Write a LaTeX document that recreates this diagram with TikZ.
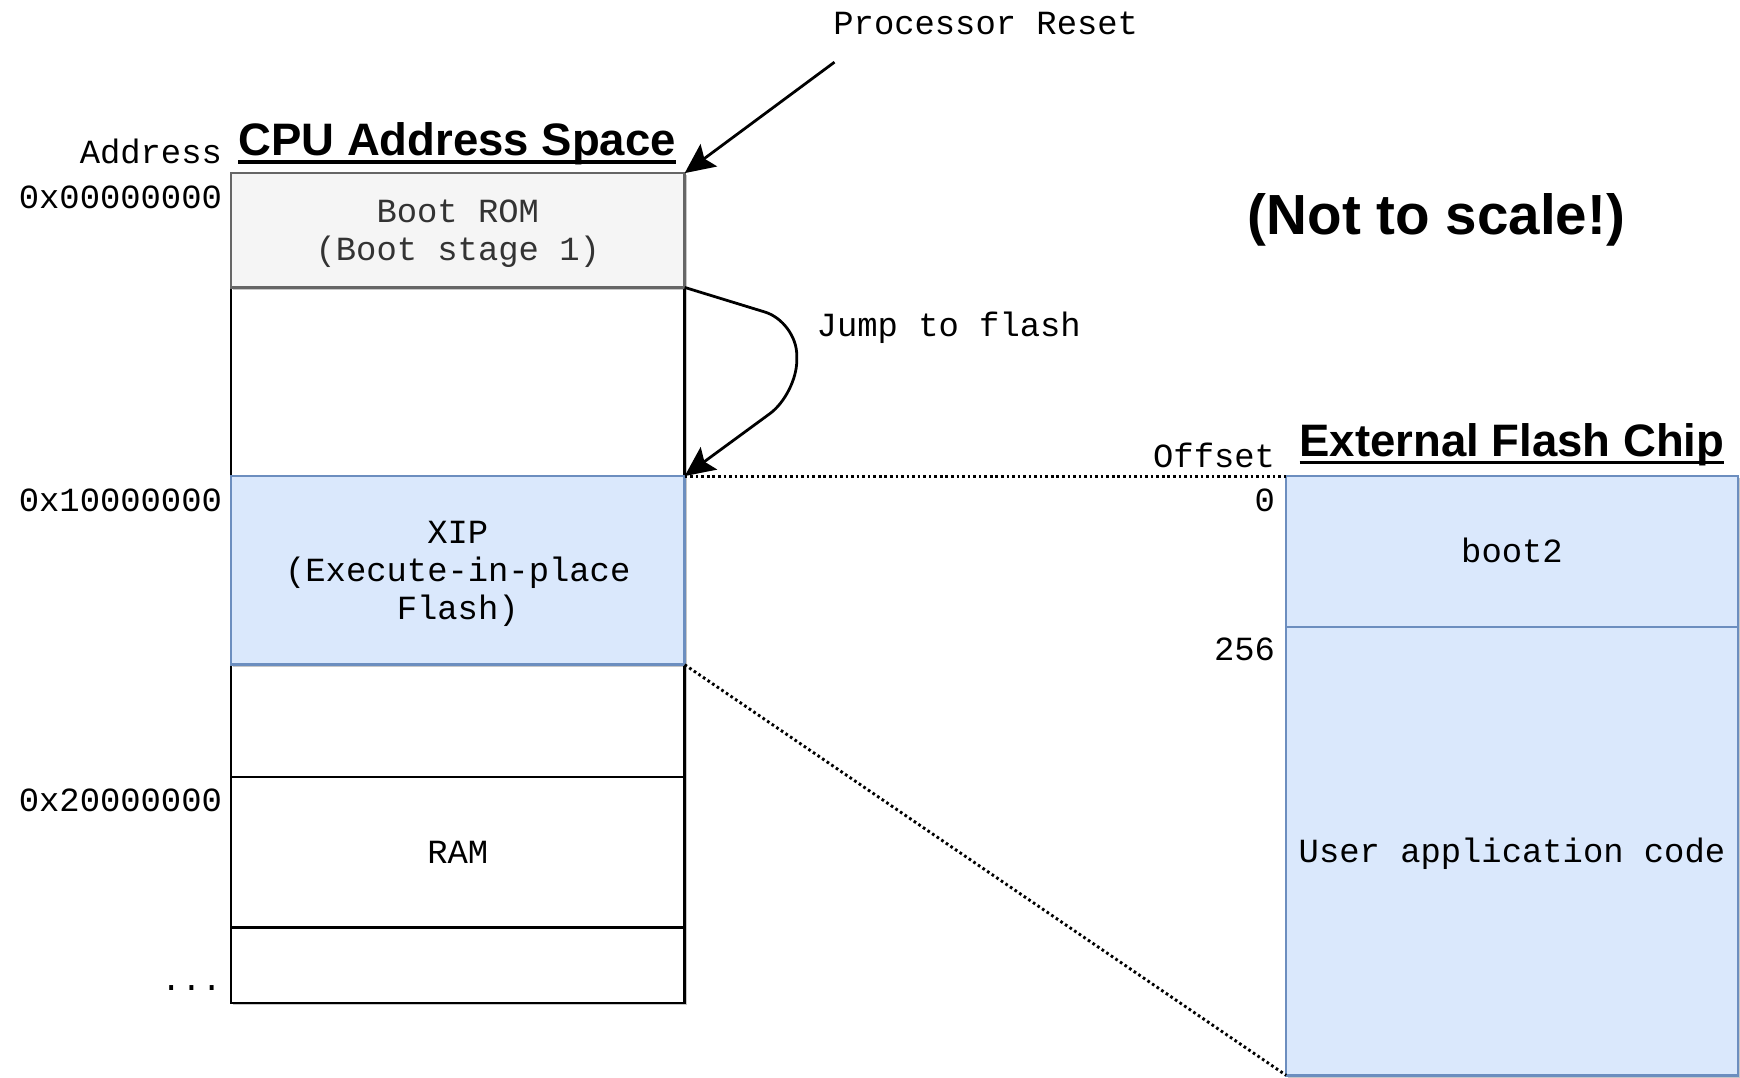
\documentclass[tikz,border=0pt]{standalone}
\usepackage{fontspec}
\setmainfont{Liberation Sans}
\newfontfamily\monofont{Liberation Mono}
\usetikzlibrary{arrows.meta}

\definecolor{xipfill}{HTML}{DAE8FC}
\definecolor{xipline}{HTML}{6C8EBF}
\definecolor{romfill}{HTML}{F5F5F5}
\definecolor{romline}{HTML}{666666}
\definecolor{romtext}{HTML}{333333}

% strut that centres a block of mono lines on its letters
\newcommand\cellstrut{\vrule height 27pt depth 7pt width 0pt}

\begin{document}
\begin{tikzpicture}[x=1pt,y=-1pt,
  mono/.style={font=\monofont\fontsize{30.5}{34}\selectfont, inner sep=0pt, outer sep=0pt},
  heading/.style={font=\bfseries\fontsize{41}{46}\selectfont, inner sep=0pt, outer sep=0pt},
  boxshadow/.style={preaction={fill=black, opacity=.22, transform canvas={xshift=2pt,yshift=-2pt}}},
  cell/.style={mono, align=center, draw=black, fill=white, line width=2.2pt, boxshadow},
  cpucell/.style={cell, minimum width=409pt},
  flashcell/.style={cell, minimum width=407pt},
  bluecell/.style={draw=xipline, fill=xipfill},
  romcell/.style={draw=romline, fill=romfill, text=romtext},
  arrow/.style={line width=2.5pt, -{Stealth[length=27pt, width=25pt, inset=5pt]}},
  dotline/.style={line width=2.6pt, dash pattern=on 2.4pt off 2.6pt},
  uline/.style={line width=3pt}
]
\useasboundingbox (0,0) rectangle (1568,971);

% CPU address space column
\node[cpucell, minimum height=170pt] (gapa) at (412.5,344) {};
\node[cpucell, minimum height=101pt] (gapb) at (412.5,649.5) {};
\node[cpucell, minimum height=136pt] (ram) at (412.5,768) {\cellstrut RAM};
\node[cpucell, minimum height=68pt] (tail) at (412.5,870) {};
\node[cpucell, romcell, minimum height=103pt] (rom) at (412.5,207.5)
  {\cellstrut Boot ROM\\(Boot stage 1)\cellstrut};
\node[cpucell, bluecell, minimum height=170pt] (xip) at (412.5,514)
  {\cellstrut XIP\\(Execute-in-place\\Flash)\cellstrut};

% External flash column
\node[flashcell, bluecell, minimum height=136pt] (boot2) at (1362.5,497) {\cellstrut boot2};
\node[flashcell, bluecell, minimum height=404pt] (app) at (1362.5,767) {\cellstrut User application code};

% Headings
\node[heading, anchor=base] (cputitle) at (412,140) {CPU Address Space};
\draw[uline] ([yshift=-6pt]cputitle.base west) -- ([yshift=-6pt]cputitle.base east);
\node[heading, anchor=base] (flashtitle) at (1362.5,411) {External Flash Chip};
\draw[uline] ([yshift=-6pt]flashtitle.base west) -- ([yshift=-6pt]flashtitle.base east);
\node[font=\bfseries\fontsize{51}{56}\selectfont, inner sep=0pt, anchor=base] (note) at (1294.5,211) {(Not to scale!)};

% Address labels
\node[mono, anchor=base east] (addrhead) at (200,147) {Address};
\node[mono, anchor=base east] (addra) at (200,188) {0x00000000};
\node[mono, anchor=base east] (addrb) at (200,460.5) {0x10000000};
\node[mono, anchor=base east] (addrc) at (200,731.5) {0x20000000};
\node[mono, anchor=base east] (addrd) at (200,893) {...};

% Offset labels
\node[mono, anchor=base east] (offhead) at (1149,421) {Offset};
\node[mono, anchor=base east] (offa) at (1149,460.5) {0};
\node[mono, anchor=base east] (offb) at (1149,595.5) {256};

% Reset arrow
\node[mono, anchor=base west] (reset) at (751,31) {Processor Reset};
\coordinate (resetfrom) at (752,56);
\draw[arrow] (resetfrom) -- (rom.north east);

% Jump to flash arrow
\node[mono, anchor=base west] (jump) at (736,303) {Jump to flash};
\draw[arrow, rounded corners=30pt] (rom.south east) -- (718,290) -- (718,355) -- (xip.north east);

% XIP window mapped onto the flash chip
\draw[dotline] (xip.north east) -- (boot2.north west);
\draw[dotline] (xip.south east) -- (app.south west);
\end{tikzpicture}
\end{document}
